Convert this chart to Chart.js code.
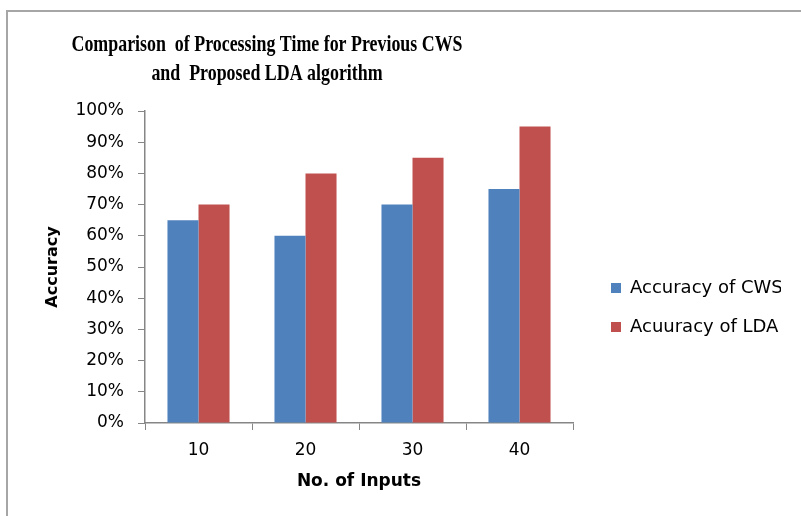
<!DOCTYPE html>
<html>
<head>
<meta charset="utf-8">
<script src="https://cdn.jsdelivr.net/npm/chart.js@4/dist/chart.umd.min.js"></script>
<style>
html, body { margin: 0; padding: 0; background: #fff; }
#wrap { position: relative; width: 801px; height: 516px; overflow: hidden; }
#frame { position: absolute; left: 6px; top: 10px; width: 900px; height: 600px; border: 2px solid #a6a6a6; }
canvas { position: absolute; left: 0; top: 0; }
</style>
</head>
<body>
<div id="wrap">
  <div id="frame"></div>
  <canvas id="accChart" width="801" height="516"></canvas>
</div>
<script>
// datos del grafico
const categories = ['10', '20', '30', '40']
const cwsAccuracy = [65, 60, 70, 75]
const ldaAccuracy = [70, 80, 85, 95]
const seriesNames = ['Accuracy of CWS', 'Acuuracy of LDA']
const titleLines = ['Comparison  of Processing Time for Previous CWS', 'and  Proposed LDA algorithm']

Chart.defaults.font.family = '"DejaVu Sans", Verdana, sans-serif'
Chart.defaults.color = '#000'

const axisGrey = '#868686'

// titulo en dos lineas, comprimido como en el original
const titlePlugin = {
    id: 'titulo',
    afterDraw(chart) {
        const ctx = chart.ctx
        ctx.save()
        ctx.fillStyle = '#000'
        ctx.font = 'bold 24px "Liberation Serif", "Times New Roman", serif'
        ctx.textAlign = 'center'
        ctx.textBaseline = 'middle'
        const sx = 391 / ctx.measureText(titleLines[0]).width
        titleLines.forEach((line, i) => {
            ctx.save()
            ctx.translate(267, 45 + i * 29)
            ctx.scale(sx, 1)
            ctx.fillText(line, 0, 0)
            ctx.restore()
        })
        ctx.restore()
    }
}

// mover la leyenda un poco a la derecha
const legendShift = {
    id: 'legendShift',
    afterLayout(chart) {
        const lg = chart.legend
        lg.left += 17
        lg.right += 17
        lg.top -= 6
        lg.bottom -= 6
    }
}

const data = {
    labels: categories,
    datasets: [{
        label: seriesNames[0],
        data: cwsAccuracy,
        backgroundColor: '#4F81BD',
        borderWidth: 0,
        categoryPercentage: 0.58,
        barPercentage: 1
    }, {
        label: seriesNames[1],
        data: ldaAccuracy,
        backgroundColor: '#C0504D',
        borderWidth: 0,
        categoryPercentage: 0.58,
        barPercentage: 1
    }]
}

const options = {
    responsive: false,
    devicePixelRatio: 1,
    animation: false,
    layout: { padding: { top: 111, right: 37, bottom: 0, left: 0 } },
    plugins: {
        title: { display: false },
        tooltip: { enabled: false },
        legend: {
            position: 'right',
            labels: {
                boxWidth: 10,
                boxHeight: 10,
                padding: 21,
                color: '#000',
                font: { size: 18, lineHeight: 1 }
            }
        }
    },
    scales: {
        x: {
            grid: { drawOnChartArea: false, color: axisGrey, tickLength: 7, offset: true },
            border: { color: axisGrey, width: 1.5 },
            ticks: { color: '#000', font: { size: 17 }, padding: 10 },
            title: {
                display: true, text: 'No. of Inputs', color: '#000',
                font: { size: 17, weight: 'bold' }, padding: { top: 0, bottom: 24 }
            },
            afterFit: s => { s.height = 93 }
        },
        y: {
            min: 0,
            max: 100,
            grid: { drawOnChartArea: false, color: axisGrey, tickLength: 7 },
            border: { color: axisGrey, width: 1.5 },
            ticks: { stepSize: 10, color: '#000', font: { size: 17 }, padding: 14, callback: v => v + '%' },
            title: {
                display: true, text: 'Accuracy', color: '#000',
                font: { size: 16, weight: 'bold' }, padding: { top: 43, bottom: 0 }
            },
            afterFit: s => { s.width = 145 }
        }
    }
}

new Chart('accChart', { type: 'bar', data, options, plugins: [titlePlugin, legendShift] })
</script>
</body>
</html>
